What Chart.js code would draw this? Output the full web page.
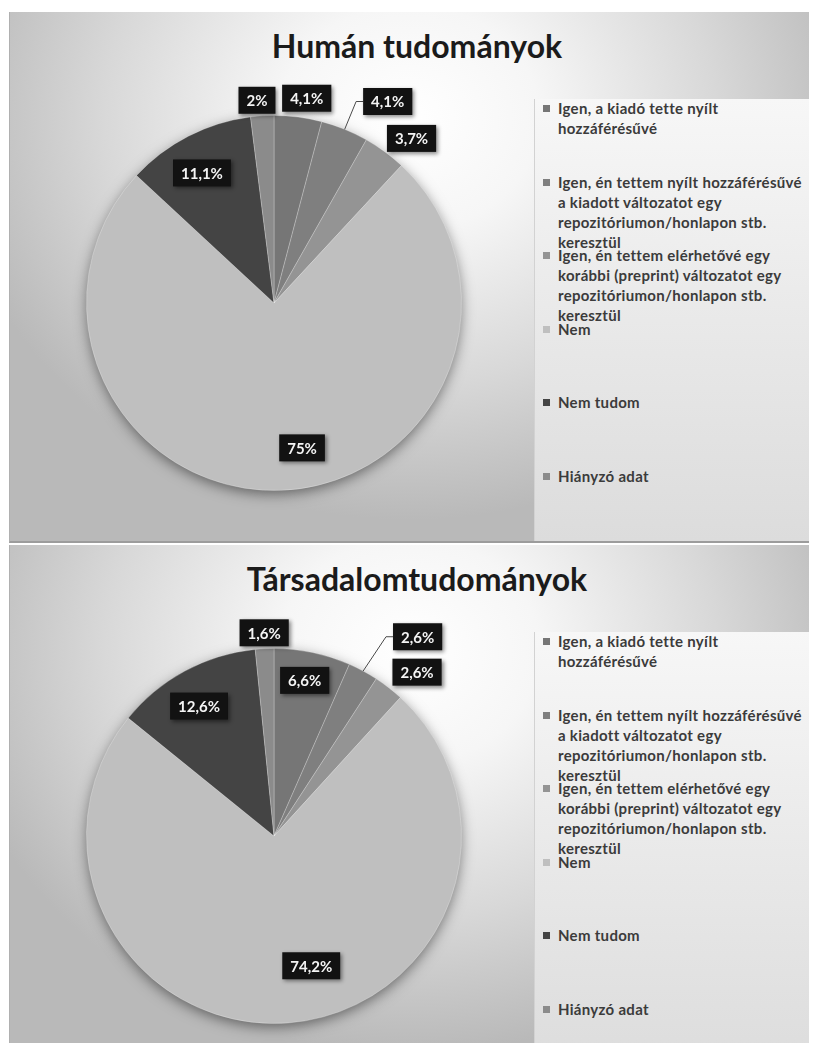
<!DOCTYPE html>
<html>
<head>
<meta charset="utf-8">
<script src="https://cdn.jsdelivr.net/npm/chart.js@4"></script>
<style>
html, body { margin: 0; padding: 0; background: #fff; overflow: hidden; }
body { width: 814px; height: 1043px; position: relative; font-family: Lato, "Noto Sans", sans-serif; }
.panel {
  position: absolute; left: 9px; width: 799px; height: 529px; overflow: hidden;
  background: radial-gradient(ellipse 58% 76% at 50% 20%, #ffffff 0%, #f6f6f6 28%, #d8d8d8 66%, #b9b9b9 100%);
  border-bottom: 2px solid #9c9c9c;
  border-left: 1px solid #b0b0b0;
}
.legendbox {
  position: absolute; left: 524px; top: 87px; width: 275px; height: 442px;
  background: linear-gradient(#f7f7f7, #e9e9e9 50%, #dcdcdc);
  border-left: 1px solid #d2d2d2;
}
.title {
  position: absolute; left: -1px; width: 816px; top: 15px; text-align: center;
  font: bold 32px Lato, sans-serif; line-height: 38px; color: #1b1b1b;
}
.panel canvas { position: absolute; left: -1px; top: 0; }
.item {
  position: absolute; left: 548px; font: bold 15px Lato, sans-serif; line-height: 20px;
  letter-spacing: 0.3px; color: #3b3b3b; white-space: nowrap;
}
.item .sw { position: absolute; left: -15px; top: 7px; width: 7px; height: 7px; }
</style>
</head>
<body>
<div class="panel" id="p1" style="top:12px">
  <div class="legendbox"></div>
  <div class="title" id="t1"></div>
  <div id="l1"></div>
  <canvas id="c1" width="799" height="529"></canvas>
</div>
<div class="panel" id="p2" style="top:545px">
  <div class="legendbox"></div>
  <div class="title" id="t2"></div>
  <div id="l2"></div>
  <canvas id="c2" width="799" height="529"></canvas>
</div>
<script>
// categories (legend lines), same for both pies
var labels = [
  ['Igen, a kiadó tette nyílt', 'hozzáférésűvé'],
  ['Igen, én tettem nyílt hozzáférésűvé', 'a kiadott változatot egy', 'repozitóriumon/honlapon stb.', 'keresztül'],
  ['Igen, én tettem elérhetővé egy', 'korábbi (preprint) változatot egy', 'repozitóriumon/honlapon stb.', 'keresztül'],
  ['Nem'],
  ['Nem tudom'],
  ['Hiányzó adat']
];
var humanValues = [4.1, 4.1, 3.7, 75, 11.1, 2];
var socialValues = [6.6, 2.6, 2.6, 74.2, 12.6, 1.6];
var titles = ['Humán tudományok', 'Társadalomtudományok'];
var sliceColors = ['#767676', '#7f7f7f', '#949494', '#bfbfbf', '#444444', '#8b8b8b'];

// where each value box sits: f = distance / radius, a = angle shift in degrees
var humanPlacement = [
  {f: 1.106, a: 1.7}, {f: 1.234, a: 7.3, leader: true}, {f: 1.144, a: 3.7},
  {f: 0.787, a: -8.8}, {f: 0.793, a: -1.8}, {f: 1.085, a: -1.2}
];
var socialPlacement = [
  {f: 0.846, a: -0.7}, {f: 1.31, a: 7.4, leader: true}, {f: 1.16, a: 3.4},
  {f: 0.72, a: -11.7}, {f: 0.8, a: -1.6}, {f: 1.085, a: 0.1}
];

var pieShadow = {
  id: 'pieShadow',
  beforeDatasetsDraw: function(chart) {
    var arc = chart.getDatasetMeta(0).data[0];
    if (!arc) return;
    var p = arc.getProps(['x', 'y', 'outerRadius'], true);
    var ctx = chart.ctx;
    ctx.save();
    ctx.shadowColor = 'rgba(0,0,0,0.5)';
    ctx.shadowBlur = 14;
    ctx.shadowOffsetY = 4;
    ctx.fillStyle = '#bfbfbf';
    ctx.beginPath();
    ctx.arc(p.x, p.y, p.outerRadius - 1, 0, Math.PI * 2);
    ctx.fill();
    ctx.restore();
  }
};

var valueBoxes = {
  id: 'valueBoxes',
  afterDatasetsDraw: function(chart, args, opts) {
    var ctx = chart.ctx;
    var meta = chart.getDatasetMeta(0);
    var values = chart.data.datasets[0].data;
    meta.data.forEach(function(arc, i) {
      var p = arc.getProps(['x', 'y', 'startAngle', 'endAngle', 'outerRadius'], true);
      var pl = opts.placement[i];
      var mid = (p.startAngle + p.endAngle) / 2;
      var ang = mid + pl.a * Math.PI / 180;
      var cx = p.x + Math.cos(ang) * p.outerRadius * pl.f;
      var cy = p.y + Math.sin(ang) * p.outerRadius * pl.f;
      var text = String(values[i]).replace('.', ',') + '%';
      ctx.save();
      ctx.font = 'bold 15px Lato, sans-serif';
      var w = ctx.measureText(text).width + 16;
      var h = 27;
      if (pl.leader) {
        var ex = p.x + Math.cos(mid) * p.outerRadius;
        var ey = p.y + Math.sin(mid) * p.outerRadius;
        ctx.strokeStyle = '#4a4a4a';
        ctx.lineWidth = 1;
        ctx.beginPath();
        ctx.moveTo(ex, ey);
        ctx.lineTo(cx - w / 2 - 7, cy);
        ctx.lineTo(cx - w / 2, cy);
        ctx.stroke();
      }
      ctx.shadowColor = 'rgba(0,0,0,0.45)';
      ctx.shadowBlur = 4;
      ctx.shadowOffsetX = 2;
      ctx.shadowOffsetY = 2;
      ctx.fillStyle = '#121212';
      ctx.fillRect(cx - w / 2, cy - h / 2, w, h);
      ctx.shadowColor = 'transparent';
      ctx.fillStyle = '#f4f4f4';
      ctx.textAlign = 'center';
      ctx.textBaseline = 'middle';
      ctx.fillText(text, cx, cy + 1);
      ctx.restore();
    });
  }
};

function buildLegend(el, chart) {
  chart.data.labels.forEach(function(lines, i) {
    var item = document.createElement('div');
    item.className = 'item';
    item.style.top = (86 + i * 73.6) + 'px';
    var sw = document.createElement('span');
    sw.className = 'sw';
    sw.style.background = chart.data.datasets[0].backgroundColor[i];
    item.appendChild(sw);
    lines.forEach(function(t) {
      var d = document.createElement('div');
      d.textContent = t;
      item.appendChild(d);
    });
    el.appendChild(item);
  });
}

function makePie(canvasId, legendId, titleId, title, values, placement) {
  document.getElementById(titleId).textContent = title;
  var chart = new Chart(canvasId, {
    type: 'pie',
    data: {
      labels: labels,
      datasets: [{
        data: values,
        backgroundColor: sliceColors,
        borderColor: 'rgba(255,255,255,0.25)',
        borderWidth: 1
      }]
    },
    options: {
      responsive: false,
      animation: false,
      layout: { padding: { left: 77, right: 346, top: 103, bottom: 50 } },
      plugins: {
        legend: { display: false },
        tooltip: { enabled: false },
        valueBoxes: { placement: placement }
      }
    },
    plugins: [pieShadow, valueBoxes]
  });
  buildLegend(document.getElementById(legendId), chart);
  return chart;
}

makePie('c1', 'l1', 't1', titles[0], humanValues, humanPlacement);
makePie('c2', 'l2', 't2', titles[1], socialValues, socialPlacement);
</script>
</body>
</html>
